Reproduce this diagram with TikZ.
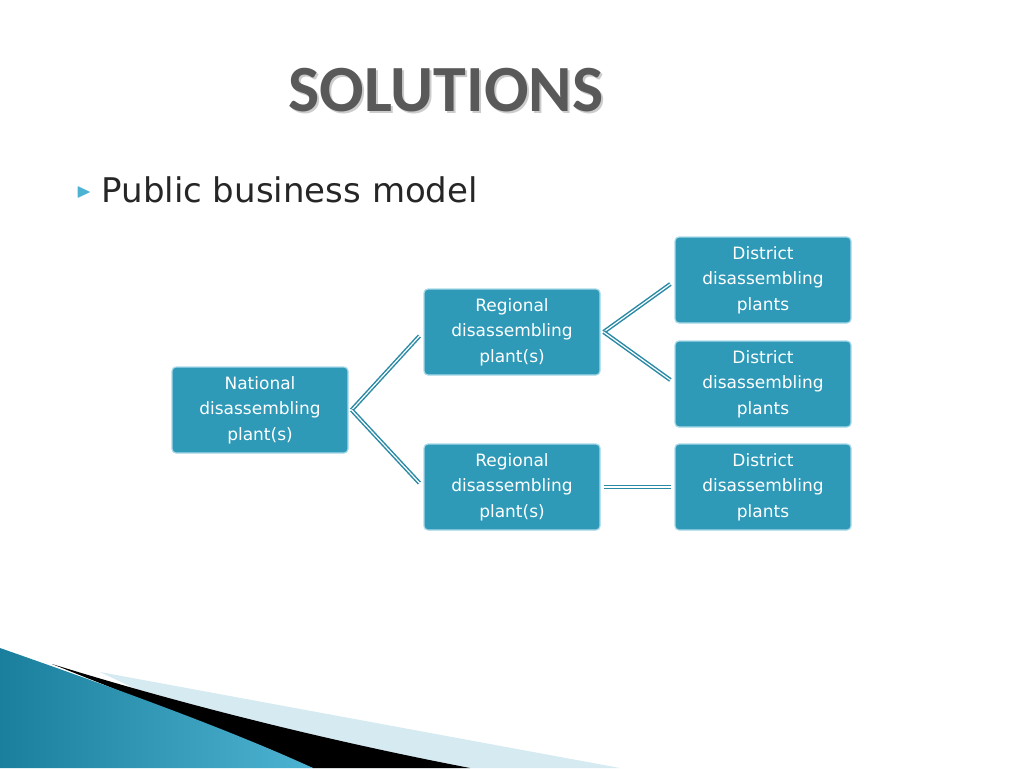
\documentclass[tikz,border=0pt]{standalone}
\usepackage{fontspec}
\setmainfont{DejaVu Sans}
\newfontfamily\titlefont{Carlito}
\usepackage{amssymb}
\begin{document}
\begin{tikzpicture}[x=1pt,y=-1pt,
  box/.style={draw=boxedge,line width=1.2pt,fill=boxfill,rounded corners=4pt,minimum width=176pt,minimum height=86pt,text=white,align=center,font=\fontsize{17}{25.5}\selectfont,inner sep=2pt},
  link/.style={draw=linkc,double=white,double distance=1.2pt,line width=1.5pt}]
\definecolor{boxfill}{HTML}{2E9AB8}
\definecolor{boxedge}{HTML}{A8D8E8}
\definecolor{linkc}{HTML}{2A8AA5}
\definecolor{titlegray}{HTML}{595959}
\definecolor{teal1}{HTML}{1A7F9C}
\definecolor{teal2}{HTML}{4DB3D2}
\definecolor{lightb}{HTML}{D6EAF2}
\useasboundingbox (0,0) rectangle (1024,768);
% bottom decoration
\fill[lightb] (100,672) -- (620,768) -- (300,768) -- cycle;
\fill[black] (52,664) .. controls (200,710) and (350,745) .. (470,768) -- (313,768) -- cycle;
\shade[left color=teal1,right color=teal2] (0,648) .. controls (120,690) and (230,730) .. (313,768) -- (0,768) -- cycle;
% title
\node[text=gray!40,font=\titlefont\bfseries\fontsize{66}{70}\selectfont] at (448,92) {SOLUTIONS};
\node (title) [text=titlegray,font=\titlefont\bfseries\fontsize{66}{70}\selectfont] at (446,90) {SOLUTIONS};
\node (bul) [text=teal2,font=\fontsize{20}{20}\selectfont] at (84,192) {$\blacktriangleright$};
\node (sub) [anchor=west,font=\fontsize{34}{34}\selectfont,text=black!85] at (98,190) {Public business model};
% boxes
\node[box] (nat) at (260,410) {National\\disassembling\\plant(s)};
\node[box] (reg1) at (512,332) {Regional\\disassembling\\plant(s)};
\node[box] (reg2) at (512,487) {Regional\\disassembling\\plant(s)};
\node[box] (d1) at (763,280) {District\\disassembling\\plants};
\node[box] (d2) at (763,384) {District\\disassembling\\plants};
\node[box] (d3) at (763,487) {District\\disassembling\\plants};
\coordinate (n0) at ([xshift=3pt]nat.east);
\coordinate (r0) at ([xshift=3pt]reg1.east);
\draw[link] (n0) -- ([xshift=-4pt,yshift=-4pt]reg1.west);
\draw[link] (n0) -- ([xshift=-4pt,yshift=4pt]reg2.west);
\draw[link] (r0) -- ([xshift=-4pt,yshift=-4pt]d1.west);
\draw[link] (r0) -- ([xshift=-4pt,yshift=4pt]d2.west);
\draw[link] ([xshift=3pt]reg2.east) -- ([xshift=-3pt]d3.west);
\end{tikzpicture}
\end{document}
